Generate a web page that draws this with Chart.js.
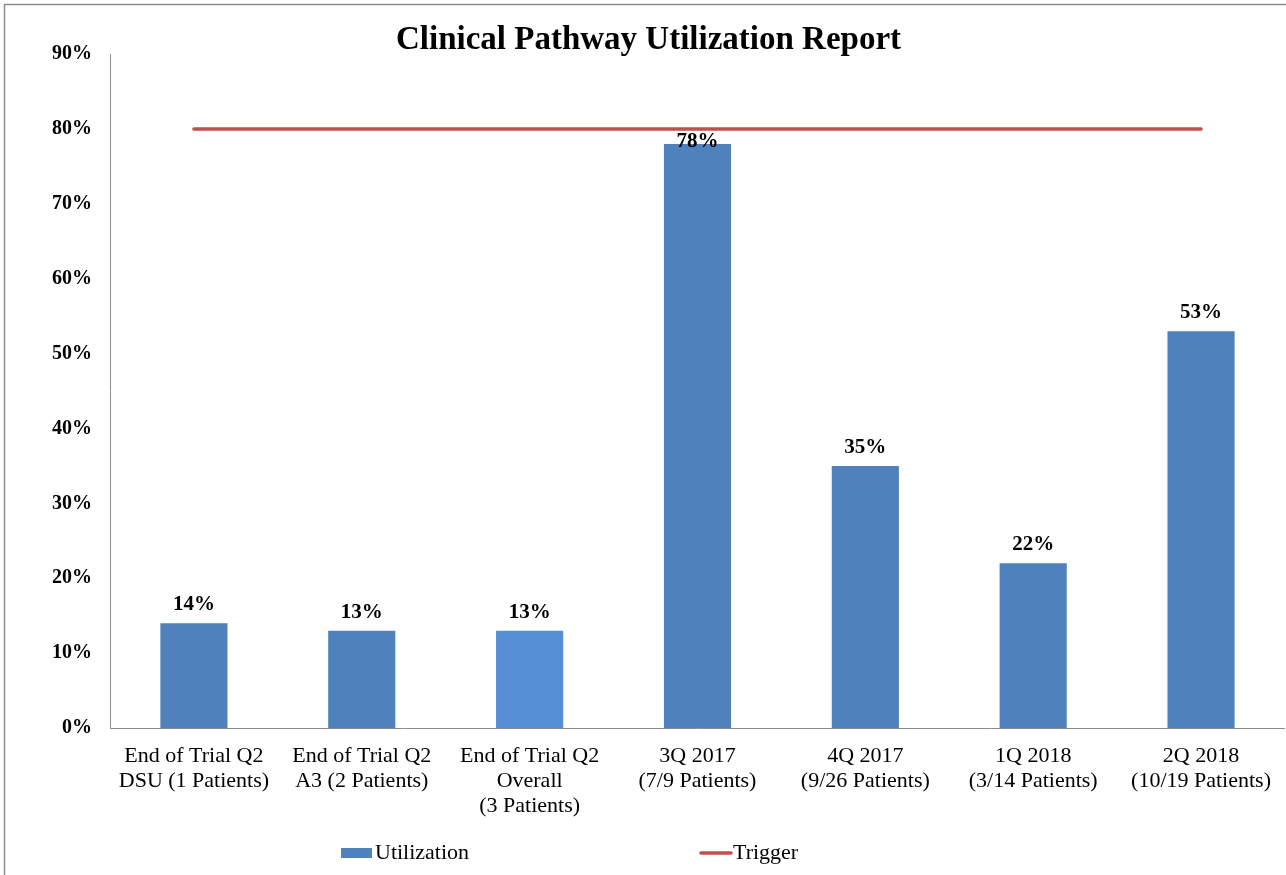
<!DOCTYPE html>
<html>
<head>
<meta charset="utf-8">
<title>Clinical Pathway Utilization Report</title>
<script src="https://cdn.jsdelivr.net/npm/chart.js@4.4.0/dist/chart.umd.min.js"></script>
<style>
  html, body { margin: 0; padding: 0; background: #fff; }
  #wrap { position: relative; width: 1286px; height: 875px; }
</style>
</head>
<body>
<div id="wrap"><canvas id="utilChart" width="1286" height="875"></canvas></div>
<script>
const categories = [
  ['End of Trial Q2', 'DSU (1 Patients)'],
  ['End of Trial Q2', 'A3 (2 Patients)'],
  ['End of Trial Q2', 'Overall', '(3 Patients)'],
  ['3Q 2017', '(7/9 Patients)'],
  ['4Q 2017', '(9/26 Patients)'],
  ['1Q 2018', '(3/14 Patients)'],
  ['2Q 2018', '(10/19 Patients)']
];
const utilization = [14, 13, 13, 78, 35, 22, 53];
const trigger = [80, 80, 80, 80, 80, 80, 80];
const barColors = ['#4F81BD', '#4F81BD', '#558ED5', '#4F81BD', '#4F81BD', '#4F81BD', '#4F81BD'];
const yTicks = [0, 10, 20, 30, 40, 50, 60, 70, 80, 90];

const serif = '"Liberation Serif", "Times New Roman", serif';

// value labels above bars, pushed under the trigger line if they would cross it
const barLabels = {
  id: 'barLabels',
  afterDatasetsDraw(chart) {
    const ctx = chart.ctx;
    const y = chart.scales.y;
    const meta = chart.getDatasetMeta(0);
    const lineY = y.getPixelForValue(trigger[0]);
    ctx.save();
    ctx.font = 'bold 21px ' + serif;
    ctx.fillStyle = '#000';
    ctx.textAlign = 'center';
    ctx.textBaseline = 'alphabetic';
    meta.data.forEach((bar, i) => {
      let base = bar.y - 13;
      if (base - 16 < lineY + 2 && base > lineY - 2) {
        base = lineY + 18;
      }
      ctx.fillText(utilization[i] + '%', bar.x, base);
    });
    ctx.restore();
  }
};

// frame + legend spread across the bottom like the original
const frameAndLegend = {
  id: 'frameAndLegend',
  afterDraw(chart) {
    const ctx = chart.ctx;
    ctx.save();
    ctx.strokeStyle = '#8c8c8c';
    ctx.lineWidth = 1.5;
    ctx.beginPath();
    ctx.moveTo(4.5, chart.height);
    ctx.lineTo(4.5, 4.5);
    ctx.lineTo(chart.width, 4.5);
    ctx.stroke();

    const ly = 853;
    ctx.font = '22px ' + serif;
    ctx.fillStyle = '#000';
    ctx.textBaseline = 'middle';
    ctx.textAlign = 'left';

    ctx.fillStyle = '#4F81BD';
    ctx.fillRect(341, ly - 5, 31, 10);
    ctx.fillStyle = '#000';
    ctx.fillText(chart.data.datasets[0].label, 375, ly);

    ctx.strokeStyle = '#C0504D';
    ctx.lineWidth = 3.5;
    ctx.lineCap = 'round';
    ctx.beginPath();
    ctx.moveTo(701, ly);
    ctx.lineTo(731, ly);
    ctx.stroke();
    ctx.fillText(chart.data.datasets[1].label, 733, ly);
    ctx.restore();
  }
};

const ctx = document.getElementById('utilChart').getContext('2d');
new Chart(ctx, {
  type: 'bar',
  data: {
    labels: categories,
    datasets: [{
      label: 'Utilization',
      data: utilization,
      backgroundColor: barColors,
      borderWidth: 0,
      barPercentage: 0.4,
      categoryPercentage: 1,
      order: 2
    }, {
      type: 'line',
      label: 'Trigger',
      data: trigger,
      borderColor: '#C0504D',
      backgroundColor: '#C0504D',
      borderWidth: 3.5,
      borderCapStyle: 'round',
      pointRadius: 0,
      order: 1
    }]
  },
  options: {
    responsive: false,
    animation: false,
    layout: { padding: { left: 11, right: 0, top: 0, bottom: 41 } },
    plugins: {
      legend: { display: false },
      tooltip: { enabled: false },
      title: {
        display: true,
        text: 'Clinical Pathway Utilization Report',
        color: '#000',
        font: { family: serif, size: 33, weight: 'bold', lineHeight: 1 },
        padding: { top: 24, bottom: -3 }
      }
    },
    scales: {
      x: {
        grid: { display: false, drawTicks: false },
        border: { display: true, color: '#8c8c8c', width: 1 },
        ticks: {
          color: '#000',
          font: { family: serif, size: 22, lineHeight: 1.15 },
          padding: 15,
          maxRotation: 0,
          autoSkip: false
        }
      },
      y: {
        min: 0,
        max: 90,
        afterBuildTicks(axis) {
          axis.ticks = yTicks.map(v => ({ value: v }));
        },
        afterFit(axis) {
          axis.width += 23;
        },
        grid: { display: false, drawTicks: false },
        border: { display: true, color: '#8c8c8c', width: 1 },
        ticks: {
          color: '#000',
          font: { family: serif, size: 20, weight: 'bold' },
          padding: 18,
          callback: v => v + '%'
        }
      }
    }
  },
  plugins: [barLabels, frameAndLegend]
});
</script>
</body>
</html>
